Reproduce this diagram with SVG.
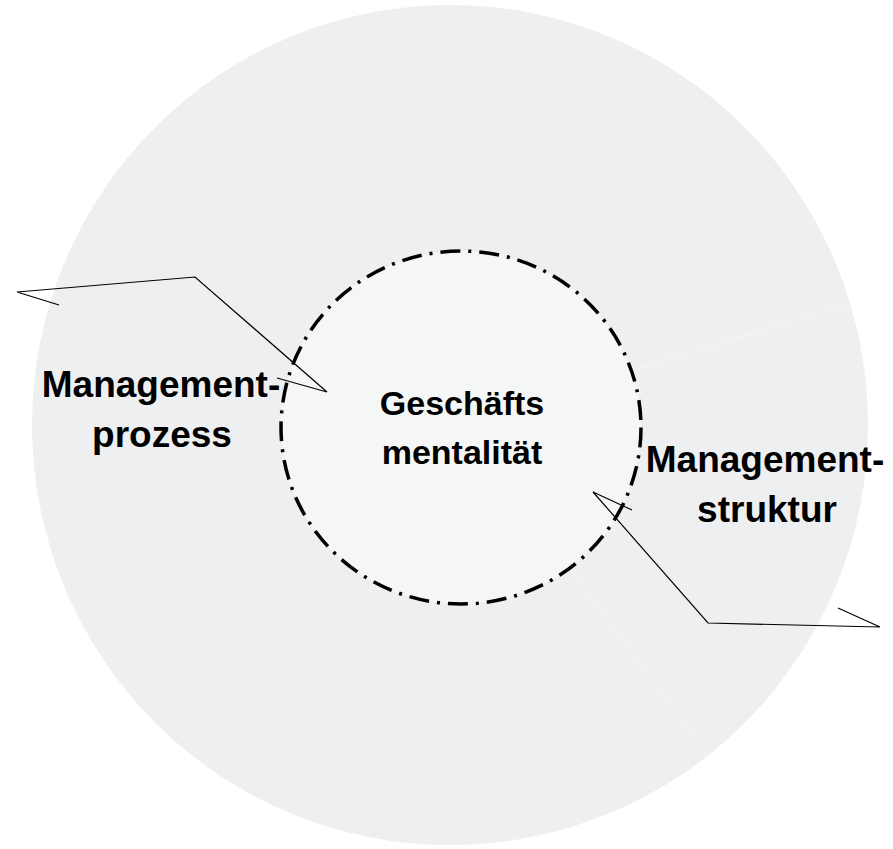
<svg xmlns="http://www.w3.org/2000/svg" width="893" height="849" viewBox="0 0 893 849">
<style>
.lbl{font-family:"Liberation Sans",Arial,sans-serif;font-weight:bold;fill:#000;text-anchor:middle}
.call{fill:none;stroke:#000;stroke-width:1.2;stroke-linejoin:miter}
.sep{stroke:#ffffff;stroke-width:1;opacity:0.4;fill:none}
</style>
<rect width="893" height="849" fill="#ffffff"/>
<g id="outer">
<ellipse cx="450" cy="425" rx="418" ry="420" fill="#eeeff1"/>
</g>
<g id="separators">
<line class="sep" x1="462" y1="423" x2="867" y2="298"/>
<line class="sep" x1="462" y1="423" x2="710" y2="758"/>
<line class="sep" x1="462" y1="423" x2="327" y2="387"/>
</g>
<g id="center">
<ellipse cx="461" cy="427.5" rx="180" ry="176.5" fill="#f5f6f6" fill-opacity="0.9" stroke="#000" stroke-width="3.5" stroke-dasharray="20 8 3 8"/>
<text class="lbl" x="462" y="415" font-size="34">Geschäfts</text>
<text class="lbl" x="462" y="464" font-size="34">mentalität</text>
</g>
<g id="connectors">
<polyline class="call" points="59,305 17,292 195,277 327,392 277,378"/>
<polyline class="call" points="632,510 593,492 708,623 880,627 838,608"/>
</g>
<g id="left-label">
<text class="lbl" x="161" y="397" font-size="37">Management-</text>
<text class="lbl" x="162" y="447" font-size="37">prozess</text>
</g>
<g id="right-label">
<text class="lbl" x="765" y="472" font-size="37">Management-</text>
<text class="lbl" x="767" y="522" font-size="37">struktur</text>
</g>
</svg>
